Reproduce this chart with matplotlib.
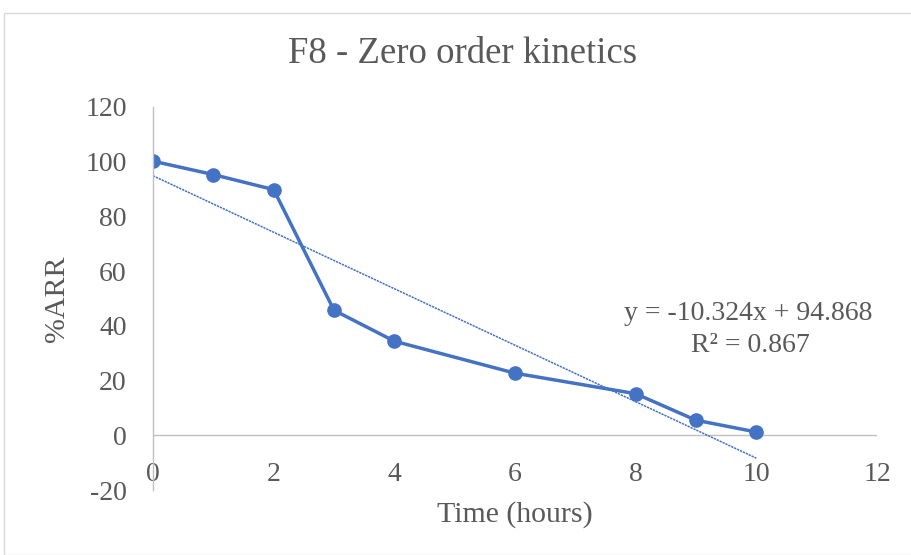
import matplotlib.pyplot as plt
from matplotlib.patches import Rectangle

# Messwerte: Zeit (h) und %ARR
time_h = [0, 1, 2, 3, 4, 6, 8, 9, 10]
arr_pct = [100.2, 95.3, 89.8, 45.7, 34.4, 22.7, 15.2, 5.5, 1.2]

# lineare Trendlinie (Excel)
slope = -10.324
intercept = 94.868
r2 = 0.867
trend_x = [0, 10]
trend_y = [slope * x + intercept for x in trend_x]

xticks = [0, 2, 4, 6, 8, 10, 12]
yticks = [-20, 0, 20, 40, 60, 80, 100, 120]

blue = "#4472C4"
grey_txt = "#595959"
grey_ln = "#BFBFBF"

plt.rcParams["font.family"] = ["Liberation Serif", "DejaVu Serif"]
plt.rcParams["axes.unicode_minus"] = False

fig = plt.figure(figsize=(9.11, 5.55), dpi=100)
# Rahmen des Diagrammbereichs
fig.patches.append(Rectangle((4 / 911, 0), 1.5, 1 - 13 / 555, transform=fig.transFigure,
                             fill=False, edgecolor="#D9D9D9", linewidth=1))

ax = fig.add_axes([153 / 911, 1 - 490 / 555, (877 - 153) / 911, (490 - 107) / 555])

ax.plot(trend_x, trend_y, color=blue, linewidth=1.1, linestyle=(0, (1.5, 0.6)))
ax.plot(time_h, arr_pct, color=blue, linewidth=2.5, marker="o", markersize=9.5)

ax.set_xlim(0, 12)
ax.set_ylim(-20, 120)
ax.set_xticks(xticks)
ax.set_yticks(yticks)

for s in ["top", "right", "bottom"]:
    ax.spines[s].set_visible(False)
ax.spines["left"].set_color(grey_ln)
ax.spines["left"].set_linewidth(1)
ax.axhline(0, color=grey_ln, linewidth=1, zorder=0)

ax.tick_params(axis="both", length=0, labelsize=20, labelcolor=grey_txt)
ax.tick_params(axis="y", pad=19)
ax.tick_params(axis="x", pad=-20)

fig.text(463 / 911, 1 - 54 / 555, "F8 - Zero order kinetics", fontsize=26.5, color=grey_txt,
         ha="center", va="center")
ax.set_xlabel("Time (hours)", fontsize=21.5, color=grey_txt, labelpad=8)
ax.set_ylabel("%ARR", fontsize=21.5, color=grey_txt, labelpad=11)

fig.text(748 / 911, 1 - 313 / 555, "y = -10.324x + 94.868",
         ha="center", va="center", fontsize=20, color=grey_txt)
fig.text(750 / 911, 1 - 345 / 555, f"R² = {r2}",
         ha="center", va="center", fontsize=20, color=grey_txt)

plt.savefig("out.png", dpi=100)
